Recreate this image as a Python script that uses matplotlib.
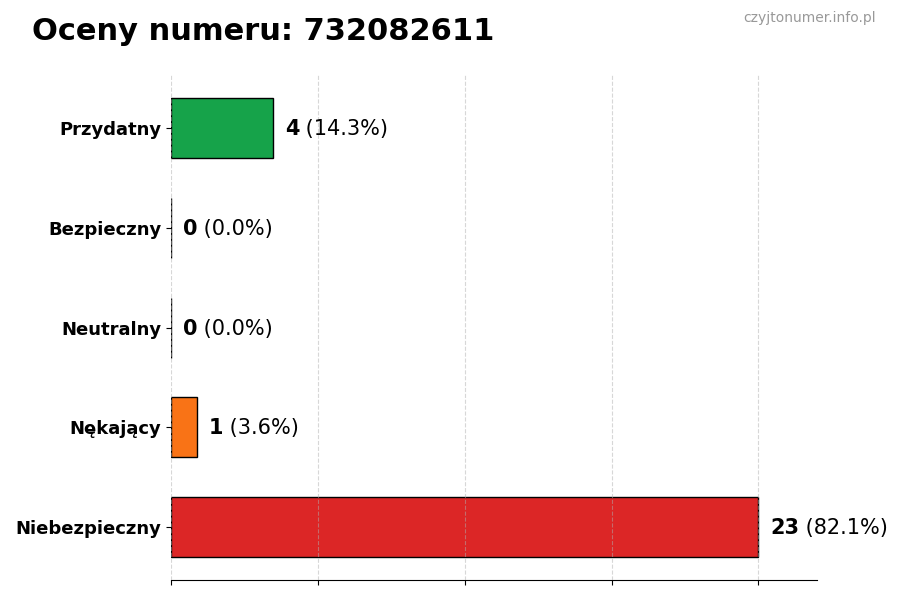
import matplotlib.pyplot as plt
import numpy as np

categories = ["Niebezpieczny", "Nękający", "Neutralny", "Bezpieczny", "Przydatny"]
counts = [23, 1, 0, 0, 4]
colors = ["#dc2626", "#f97316", "#6b7280", "#22c55e", "#16a34a"]
title = "Oceny numeru: 732082611"
watermark = "czyjtonumer.info.pl"


def main():
    total = sum(counts)
    fig = plt.figure(figsize=(9, 6), dpi=100)
    ax = fig.add_axes([0.19, 0.033, 0.718, 0.842])

    y = np.arange(len(categories))
    ax.barh(y, counts, height=0.6, color=colors, edgecolor="black", linewidth=1)

    xmax = max(counts)
    ax.set_xlim(0, xmax * 1.1)
    ax.set_xticks(np.linspace(0, xmax, 5))
    ax.set_xticklabels([])
    ax.set_yticks(y)
    ax.set_yticklabels(categories, fontsize=13, fontweight="bold")
    ax.grid(axis="x", linestyle="--", alpha=0.5, zorder=3)
    ax.set_axisbelow(False)

    for side in ("top", "right", "left"):
        ax.spines[side].set_visible(False)

    for yi, c in zip(y, counts):
        pct = c / total * 100 if total else 0
        t = ax.text(c + xmax * 0.02, yi - 0.01, f"{c}", va="center", ha="left",
                    fontsize=15, fontweight="bold")
        ax.annotate(f" ({pct:.1f}%)", xy=(1, 0.5), xycoords=t,
                    va="center", ha="left", fontsize=15)

    fig.text(0.035, 0.947, title, fontsize=22, fontweight="bold", va="center")
    fig.text(0.973, 0.97, watermark, fontsize=10, color="#999999",
             ha="right", va="center")

    fig.savefig("out.png", dpi=100)


if __name__ == "__main__":
    main()
